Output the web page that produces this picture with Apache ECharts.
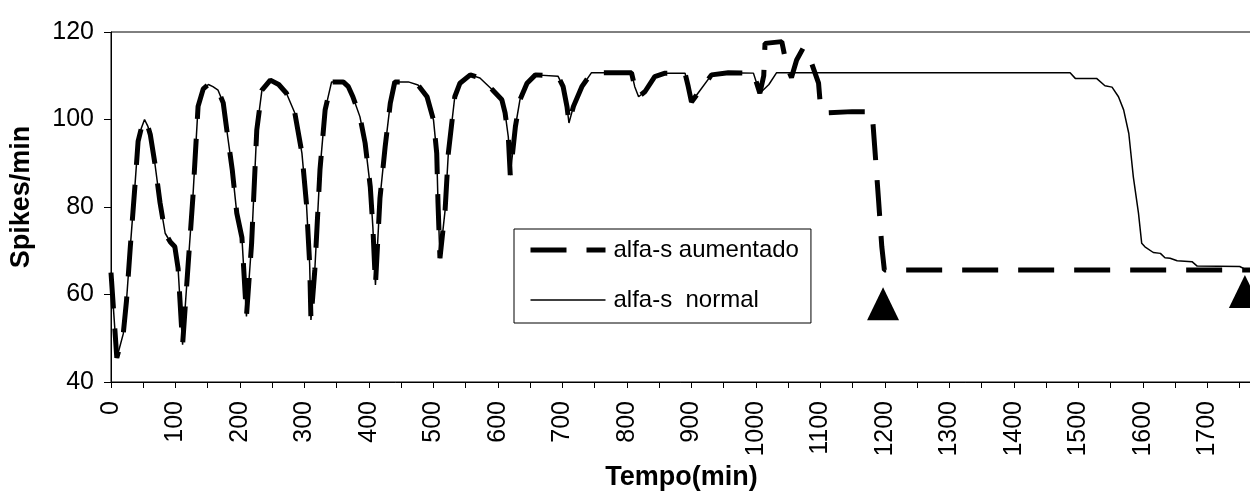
<!DOCTYPE html>
<html>
<head>
<meta charset="utf-8">
<script src="https://cdn.jsdelivr.net/npm/echarts@6/dist/echarts.min.js"></script>
<style>
  html, body { margin: 0; padding: 0; background: #fff; }
  #chart { width: 1250px; height: 493px; }
</style>
</head>
<body>
<div id="chart"></div>
<script>
// Spike rate over time. Both conditions share the same trace until ~1006 min.
const tempoComum = [0, 9, 19, 24, 30, 37, 42, 47, 52, 57, 61, 68, 76, 84, 92, 99, 104, 111, 119, 127, 135, 143, 151, 158, 166, 174, 181, 188, 195, 203, 210, 218, 226, 234, 247, 260, 272, 285, 296, 303, 308, 310, 316, 324, 332, 342, 360, 368, 375, 386, 394, 402, 406, 410, 417, 425, 433, 440, 461, 476, 490, 500, 505, 507, 510, 518, 523, 533, 541, 557, 572, 592, 606, 611, 616, 619, 627, 634, 645, 658, 693, 701, 707, 710, 717, 730, 745, 807, 812, 818, 828, 843, 859, 890, 895, 900, 910, 931, 957, 996, 1006];
const spikesComum = [65, 45.5, 51, 58.5, 71, 84.6, 95, 98, 100, 98.5, 96.5, 90, 81, 74, 72, 70.9, 66, 48.5, 65.6, 82.3, 103, 107, 108, 107.5, 106.7, 103.8, 96, 88.5, 78.6, 73, 55, 71.7, 97.6, 106.7, 109, 108, 106, 101.5, 92.3, 80.8, 67, 54.2, 65.6, 88.5, 102.2, 108.6, 108.6, 107.5, 105.2, 100.6, 94.6, 84.6, 75.4, 62.2, 82, 93.7, 103.7, 108.6, 108.6, 107.9, 105.2, 99.9, 92.3, 80.9, 68.3, 79.3, 92.3, 105.2, 108.3, 110.2, 109.5, 106.7, 104.5, 101.5, 96, 87.3, 98.4, 104.5, 108.3, 110.2, 109.9, 107.5, 102.9, 99.2, 103, 107.5, 110.7, 110.7, 107.5, 105.2, 106.4, 109.8, 110.6, 110.6, 107.5, 104, 106, 110.2, 110.7, 110.6, 106];

// alfa-s aumentado, after the shared part
const tempoAumentado = [1012, 1014, 1040, 1048, 1055, 1063, 1073, 1079, 1097, 1100, 1104, 1149, 1180, 1184, 1190, 1195, 1199, 1766];
const spikesAumentado = [110, 117.4, 117.8, 112, 109.6, 113.6, 116.3, 115.9, 108.3, 102.9, 101.5, 101.8, 101.8, 93.8, 81.6, 71, 65.6, 65.6];

// alfa-s normal, after the shared part
const tempoNormal = [1020, 1032, 1487, 1495, 1528, 1541, 1552, 1562, 1570, 1578, 1585, 1593, 1598, 1603, 1616, 1627, 1634, 1642, 1653, 1676, 1684, 1750, 1758, 1766];
const spikesNormal = [108, 110.7, 110.7, 109.4, 109.4, 107.7, 107.4, 105.2, 102.2, 96.8, 86.9, 78.6, 71.7, 70.9, 69.6, 69.4, 68.4, 68.3, 67.7, 67.5, 66.5, 66.4, 65.8, 65.8];

// Triangle markers
const tempoMarcas = [1197, 1758];
const spikesMarcas = [57.9, 60.7];

const nomeAumentado = 'alfa-s aumentado';
const nomeNormal = 'alfa-s  normal';

function pares(xs, ys) { return xs.map((x, i) => [x, ys[i]]); }

const dadosAumentado = pares(tempoComum.concat(tempoAumentado), spikesComum.concat(spikesAumentado));
const dadosNormal = pares(tempoComum.concat(tempoNormal), spikesComum.concat(spikesNormal));
const dadosMarcas = pares(tempoMarcas, spikesMarcas);

const fonte = "'Liberation Sans', Arial, sans-serif";
const tracos = [36, 20];

const chart = echarts.init(document.getElementById('chart'), null, { renderer: 'canvas' });
chart.setOption({
  animation: false,
  backgroundColor: '#fff',
  grid: {
    left: 111, top: 32, right: -2, bottom: 111,
    outerBoundsMode: 'none',
    containLabel: false,
    show: true, borderColor: '#000', borderWidth: 1, backgroundColor: 'transparent'
  },
  legend: {
    orient: 'vertical',
    left: 514, top: 229,
    padding: [9, 12, 11, 14],
    itemGap: 26,
    itemWidth: 75,
    itemHeight: 14,
    borderColor: '#000',
    borderWidth: 1,
    backgroundColor: '#fff',
    textStyle: { fontFamily: fonte, fontSize: 24, color: '#000', padding: [0, 0, 0, 3] },
    data: [
      { name: nomeAumentado, itemStyle: { opacity: 0 }, lineStyle: { width: 5, type: tracos, color: '#000' } },
      { name: nomeNormal, itemStyle: { opacity: 0 }, lineStyle: { width: 1.5, type: 'solid', color: '#000' } }
    ]
  },
  xAxis: {
    type: 'value',
    min: 0, max: 1769, interval: 50,
    name: 'Tempo(min)',
    nameLocation: 'middle',
    nameGap: 81,
    nameTextStyle: { fontFamily: fonte, fontSize: 27, fontWeight: 'bold', color: '#000' },
    axisLine: { show: true, onZero: false, lineStyle: { color: '#000', width: 1 } },
    axisTick: { show: true, length: 6, lineStyle: { color: '#000' } },
    axisLabel: {
      rotate: 90, margin: 19,
      fontFamily: fonte, fontSize: 25, color: '#000',
      showMaxLabel: false,
      formatter: v => (v % 100 === 0 ? String(v) : '')
    },
    splitLine: { show: false }
  },
  yAxis: {
    type: 'value',
    min: 40, max: 120, interval: 20,
    name: 'Spikes/min',
    nameLocation: 'middle',
    nameGap: 76,
    nameTextStyle: { fontFamily: fonte, fontSize: 27, fontWeight: 'bold', color: '#000', padding: [0, 0, 0, 20] },
    axisLine: { show: true, lineStyle: { color: '#000', width: 1 } },
    axisTick: { show: true, length: 7, lineStyle: { color: '#000' } },
    axisLabel: { margin: 17, fontFamily: fonte, fontSize: 25, color: '#000' },
    splitLine: { show: false }
  },
  series: [
    {
      name: nomeNormal,
      type: 'line',
      data: dadosNormal,
      symbol: 'none',
      lineStyle: { color: '#000', width: 1.5 },
      itemStyle: { color: '#000' },
      z: 2
    },
    {
      name: nomeAumentado,
      type: 'line',
      data: dadosAumentado,
      symbol: 'none',
      lineStyle: { color: '#000', width: 5, type: tracos },
      itemStyle: { color: '#000' },
      z: 3
    },
    {
      name: 'marcas',
      type: 'scatter',
      data: dadosMarcas,
      symbol: 'triangle',
      symbolSize: [32, 33],
      itemStyle: { color: '#000', opacity: 1 },
      clip: false,
      z: 4
    }
  ]
});
</script>
</body>
</html>
